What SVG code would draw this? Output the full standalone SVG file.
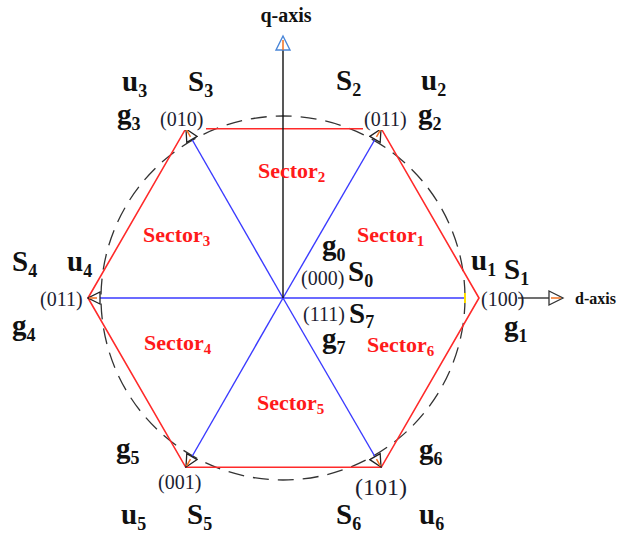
<svg xmlns="http://www.w3.org/2000/svg" width="630" height="533" viewBox="0 0 630 533">
<style>
.lb{font-family:"Liberation Serif","Times New Roman",serif;font-weight:bold;font-size:29px;fill:#111}
.sb{font-size:18px}
.cd{font-family:"Liberation Serif","Times New Roman",serif;font-size:20px;fill:#1c1c30}
.big{font-size:24px}
.sec{font-family:"Liberation Serif","Times New Roman",serif;font-weight:bold;font-size:22px;fill:#ff1a1a}
.ssb{font-size:15px}
.ax{font-family:"Liberation Serif","Times New Roman",serif;font-weight:bold;fill:#111}
.blue{stroke:#3a3aff;stroke-width:1.4;fill:none}
</style>
<defs>
<marker id="vh" markerUnits="userSpaceOnUse" markerWidth="14" markerHeight="14" refX="13" refY="7" orient="auto" viewBox="0 0 14 14">
<path d="M1,1 L13,7 L1,13 Z" fill="#fff" stroke="#222" stroke-width="1.3"/>
<path d="M4,7 L12,7" stroke="#f07020" stroke-width="1.5"/>
</marker>
</defs>
<g id="circle"><circle cx="283" cy="298" r="182" fill="none" stroke="#333" stroke-width="1.3" stroke-dasharray="16 9"/></g>
<g id="hexagon"><polygon points="88,298 185.75,128.7 381.25,128.7 479,298 381.25,467.3 185.75,467.3" fill="none" stroke="#ff2a2a" stroke-width="1.6"/></g>
<g id="connectors">
<line class="blue" x1="283" y1="298" x2="465" y2="298"/>
<line x1="465" y1="293" x2="465" y2="303" stroke="#ffe000" stroke-width="2"/>
<line class="blue" x1="283" y1="298" x2="88" y2="298" marker-end="url(#vh)"/>
<line class="blue" x1="283" y1="298" x2="186" y2="129" marker-end="url(#vh)"/>
<line class="blue" x1="283" y1="298" x2="381" y2="129" marker-end="url(#vh)"/>
<line class="blue" x1="283" y1="298" x2="186" y2="467" marker-end="url(#vh)"/>
<line class="blue" x1="283" y1="298" x2="381" y2="467" marker-end="url(#vh)"/>
<line x1="283" y1="298" x2="283" y2="50" stroke="#111" stroke-width="1.4"/>
<path d="M283,36 L290,50 L276,50 Z" fill="#fff" stroke="#4a86d8" stroke-width="1.4"/>
<path d="M283,40 L283,50" stroke="#f07020" stroke-width="1.5"/>
<line x1="518" y1="298" x2="549" y2="298" stroke="#333" stroke-width="1.4"/>
<path d="M549,291 L563,298 L549,305 Z" fill="#fff" stroke="#333" stroke-width="1.3"/>
<path d="M551,298 L561,298" stroke="#f07020" stroke-width="1.5"/>
</g>
<g id="axis-labels">
<text class="ax" x="286" y="22" font-size="20" text-anchor="middle">q-axis</text>
<text class="ax" x="575" y="304" font-size="16">d-axis</text>
</g>
<g id="v3">
<text class="lb" x="122" y="91">u<tspan class="sb" dy="6">3</tspan></text>
<text class="lb" x="188" y="91">S<tspan class="sb" dy="6">3</tspan></text>
<text class="lb" x="117" y="124">g<tspan class="sb" dy="6">3</tspan></text>
<rect x="159" y="109" width="47" height="21" fill="#fff"/>
<text class="cd" x="160" y="126">(010)</text>
</g>
<g id="v2">
<text class="lb" x="336" y="90">S<tspan class="sb" dy="6">2</tspan></text>
<text class="lb" x="421" y="90">u<tspan class="sb" dy="6">2</tspan></text>
<rect x="363" y="109" width="46" height="21" fill="#fff"/>
<text class="cd" x="364" y="126">(011)</text>
<text class="lb" x="418" y="124">g<tspan class="sb" dy="6">2</tspan></text>
</g>
<g id="v4">
<text class="lb" x="12" y="271">S<tspan class="sb" dy="6">4</tspan></text>
<text class="lb" x="67" y="271">u<tspan class="sb" dy="6">4</tspan></text>
<text class="cd" x="40" y="306">(011)</text>
<text class="lb" x="12" y="335">g<tspan class="sb" dy="6">4</tspan></text>
</g>
<g id="v1">
<text class="lb" x="471" y="270">u<tspan class="sb" dy="6">1</tspan></text>
<text class="lb" x="504" y="279">S<tspan class="sb" dy="6">1</tspan></text>
<text class="cd" x="481" y="306">(100)</text>
<text class="lb" x="504" y="336">g<tspan class="sb" dy="6">1</tspan></text>
</g>
<g id="v0">
<text class="lb" x="322" y="255">g<tspan class="sb" dy="6">0</tspan></text>
<text class="cd" x="301" y="285">(000)</text>
<text class="lb" x="348" y="281">S<tspan class="sb" dy="6">0</tspan></text>
</g>
<g id="v7">
<text class="cd" x="303" y="321">(111)</text>
<text class="lb" x="349" y="323">S<tspan class="sb" dy="5">7</tspan></text>
<text class="lb" x="322" y="348">g<tspan class="sb" dy="6">7</tspan></text>
</g>
<g id="v5">
<text class="lb" x="116" y="458">g<tspan class="sb" dy="6">5</tspan></text>
<text class="cd" x="158" y="489">(001)</text>
<text class="lb" x="121" y="524">u<tspan class="sb" dy="6">5</tspan></text>
<text class="lb" x="187" y="524">S<tspan class="sb" dy="6">5</tspan></text>
</g>
<g id="v6">
<text class="lb" x="419" y="459">g<tspan class="sb" dy="6">6</tspan></text>
<text class="cd big" x="355" y="495">(101)</text>
<text class="lb" x="336" y="524">S<tspan class="sb" dy="6">6</tspan></text>
<text class="lb" x="419" y="524">u<tspan class="sb" dy="6">6</tspan></text>
</g>
<g id="sectors">
<text class="sec" x="258" y="178">Sector<tspan class="ssb" dy="4">2</tspan></text>
<text class="sec" x="143" y="242">Sector<tspan class="ssb" dy="4">3</tspan></text>
<text class="sec" x="357" y="242">Sector<tspan class="ssb" dy="4">1</tspan></text>
<text class="sec" x="144" y="350">Sector<tspan class="ssb" dy="4">4</tspan></text>
<text class="sec" x="367" y="352">Sector<tspan class="ssb" dy="4">6</tspan></text>
<text class="sec" x="257" y="410">Sector<tspan class="ssb" dy="4">5</tspan></text>
</g>
</svg>
